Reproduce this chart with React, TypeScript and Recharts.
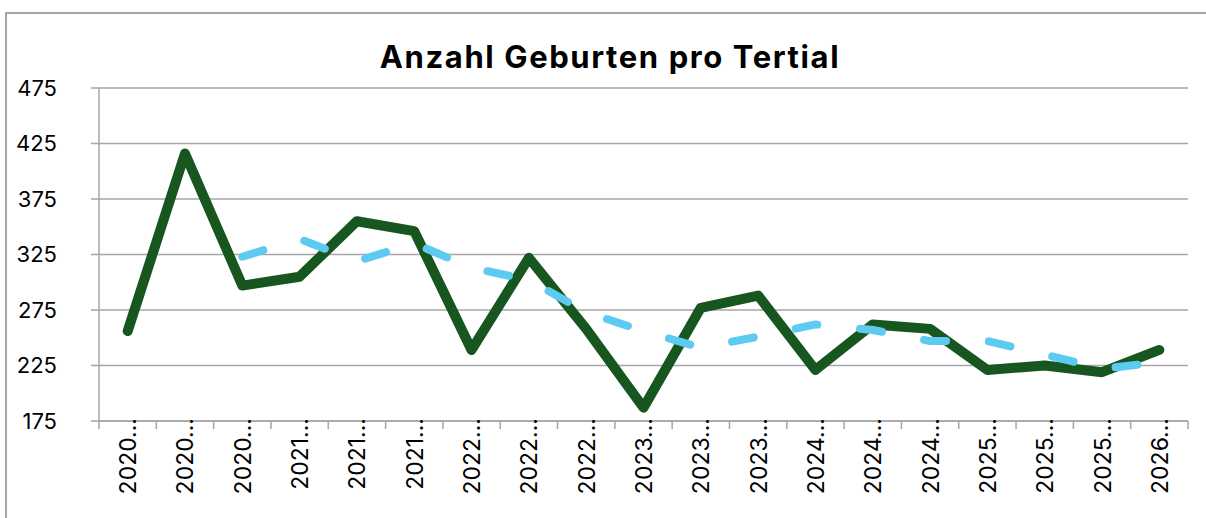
import React from "react";
import { LineChart, Line, XAxis, YAxis, CartesianGrid } from "recharts";

// --- Data ---

const tickLabels = [
  "2020…", "2020…", "2020…",
  "2021…", "2021…", "2021…",
  "2022…", "2022…", "2022…",
  "2023…", "2023…", "2023…",
  "2024…", "2024…", "2024…",
  "2025…", "2025…", "2025…",
  "2026…",
];

const births = [256, 416, 297, 305, 355, 346, 239, 322, 258, 187, 277, 288, 221, 262, 258, 221, 225, 219, 239];

// gleitender Durchschnitt (3 Perioden)
const movingAvg = [null, null, 323, 339, 319, 335, 313, 302, 273, 256, 241, 251, 262, 257, 247, 247, 235, 222, 228];

const yTicks = [175, 225, 275, 325, 375, 425, 475];

// --- Layout ---

const W = 1206;
const H = 518;
const MARGIN = { top: 88, right: 18, bottom: 0, left: 0 };
const Y_AXIS_W = 99;
const X_AXIS_H = 97;
const PLOT_BOTTOM = H - X_AXIS_H;
const PLOT_W = W - MARGIN.right - Y_AXIS_W;
const BAND = PLOT_W / tickLabels.length;

const GRID = "#a6a6a6";
const GREEN = "#17561f";
const BLUE = "#5dcaf2";
const FONT = "Inter, 'Liberation Sans', Arial, sans-serif";

const data = tickLabels.map((label, i) => ({
  i,
  label,
  births: births[i],
  avg: movingAvg[i],
}));

function CategoryTick(props: any) {
  const { x, payload, index } = props;
  const left = x - BAND / 2;
  const isLast = index === tickLabels.length - 1;
  return (
    <g>
      <line x1={left} x2={left} y1={PLOT_BOTTOM} y2={PLOT_BOTTOM + 8} stroke={GRID} strokeWidth={1.5} />
      {isLast && (
        <line x1={left + BAND} x2={left + BAND} y1={PLOT_BOTTOM} y2={PLOT_BOTTOM + 8} stroke={GRID} strokeWidth={1.5} />
      )}
      <text
        transform={`translate(${x + 8.5}, ${PLOT_BOTTOM - 3}) rotate(-90)`}
        textAnchor="end"
        fontSize={23}
        fontFamily={FONT}
        fill="#000"
      >
        {tickLabels[payload.value]}
      </text>
    </g>
  );
}

export default function App() {
  return (
    <div style={{ position: "absolute", left: 0, top: 0, width: W, height: H, overflow: "hidden", background: "#fff" }}>
      <div
        style={{
          position: "absolute",
          left: 5,
          top: 12,
          width: W + 20,
          height: H + 20,
          border: `2px solid ${GRID}`,
          boxSizing: "border-box",
        }}
      />
      <svg width={W} height={H} style={{ position: "absolute", left: 0, top: 0 }}>
        <text
          x={610}
          y={68}
          textAnchor="middle"
          fontFamily={FONT}
          fontWeight="bold"
          fontSize={31}
          letterSpacing={1.6}
          fill="#000"
        >
          Anzahl Geburten pro Tertial
        </text>
      </svg>
      <div style={{ position: "absolute", left: 0, top: 0 }}>
        <LineChart width={W} height={H} data={data} margin={MARGIN}>
          <CartesianGrid vertical={false} stroke={GRID} strokeWidth={1.5} />
          <XAxis
            dataKey="i"
            type="category"
            interval={0}
            height={X_AXIS_H}
            padding={{ left: BAND / 2, right: BAND / 2 }}
            axisLine={{ stroke: GRID, strokeWidth: 1.5 }}
            tickLine={false}
            tick={<CategoryTick />}
          />
          <YAxis
            type="number"
            domain={[175, 475]}
            ticks={yTicks}
            width={Y_AXIS_W}
            tickSize={8}
            tickMargin={34}
            axisLine={{ stroke: GRID, strokeWidth: 1.5 }}
            tickLine={{ stroke: GRID, strokeWidth: 1.5 }}
            tick={{ fill: "#000", fontSize: 22, fontFamily: FONT }}
          />
          <Line
            dataKey="births"
            stroke={GREEN}
            strokeWidth={10}
            strokeLinecap="round"
            strokeLinejoin="round"
            dot={false}
            activeDot={false}
            isAnimationActive={false}
          />
          <Line
            dataKey="avg"
            stroke={BLUE}
            strokeWidth={8}
            strokeDasharray="22 43"
            strokeLinecap="round"
            strokeLinejoin="round"
            dot={false}
            activeDot={false}
            isAnimationActive={false}
          />
        </LineChart>
      </div>
    </div>
  );
}
